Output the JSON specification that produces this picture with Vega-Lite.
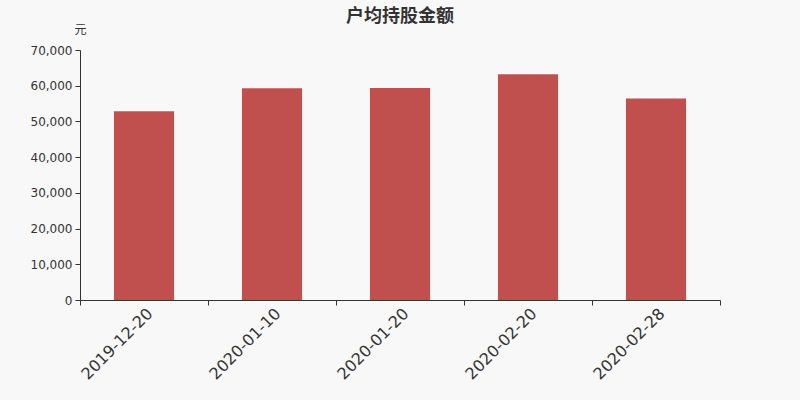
{
  "$schema": "https://vega.github.io/schema/vega-lite/v6.json",
  "autosize": {"type": "none"},
  "width": 640,
  "height": 250,
  "padding": {"left": 80, "top": 50, "right": 80, "bottom": 100},
  "background": "#f8f8f8",
  "title": {
    "text": "户均持股金额",
    "anchor": "middle",
    "fontSize": 18,
    "fontWeight": "bold",
    "font": "Noto Sans CJK SC",
    "color": "#333333",
    "offset": -3
  },
  "data": {
    "values": [
      {"date": "2019-12-20", "value": 52840},
      {"date": "2020-01-10", "value": 59280},
      {"date": "2020-01-20", "value": 59360},
      {"date": "2020-02-20", "value": 63200},
      {"date": "2020-02-28", "value": 56450}
    ]
  },
  "mark": {"type": "bar", "color": "#c0504d", "width": {"band": 0.47}},
  "encoding": {
    "x": {
      "field": "date",
      "type": "nominal",
      "sort": null,
      "scale": {"paddingInner": 0, "paddingOuter": 0},
      "axis": {
        "title": null,
        "labelAngle": -45,
        "labelFontSize": 16,
        "labelFont": "DejaVu Sans",
        "labelColor": "#333333",
        "labelPadding": 0,
        "tickBand": "extent",
        "tickSize": 5,
        "tickColor": "#333333",
        "domainColor": "#333333"
      }
    },
    "y": {
      "field": "value",
      "type": "quantitative",
      "scale": {"domain": [0, 70000], "nice": false},
      "axis": {
        "title": "元",
        "titleAngle": 0,
        "titleX": 0,
        "titleY": -17,
        "titleAlign": "center",
        "titleBaseline": "alphabetic",
        "titleFont": "Noto Sans CJK SC",
        "titleFontSize": 12,
        "titleFontWeight": "normal",
        "titleColor": "#333333",
        "values": [0, 10000, 20000, 30000, 40000, 50000, 60000, 70000],
        "format": ",d",
        "grid": false,
        "labelFont": "DejaVu Sans",
        "labelFontSize": 12,
        "labelColor": "#333333",
        "labelPadding": 3,
        "tickSize": 5,
        "tickColor": "#333333",
        "domainColor": "#333333"
      }
    }
  },
  "config": {
    "view": {"stroke": null}
  }
}
